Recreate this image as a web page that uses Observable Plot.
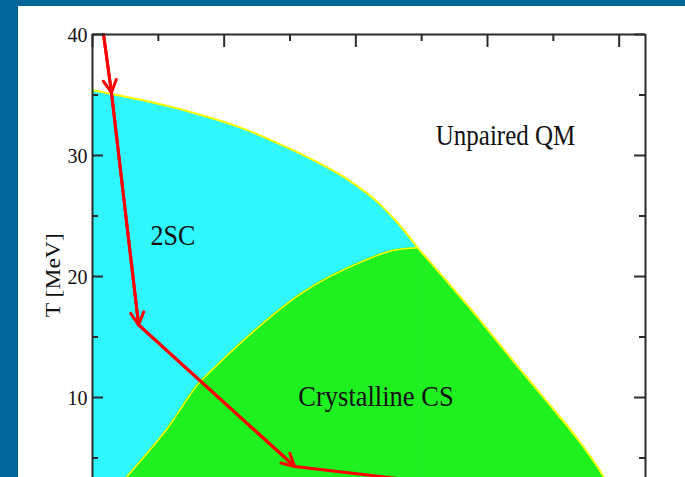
<!DOCTYPE html>
<html><head><meta charset="utf-8">
<script src="https://cdn.jsdelivr.net/npm/d3@7"></script>
<script src="https://cdn.jsdelivr.net/npm/@observablehq/plot@0.6"></script>
<style>
html,body{margin:0;padding:0;background:#006699;overflow:hidden;width:685px;height:477px;}
#wrap{position:absolute;left:18px;top:6px;width:667px;height:471px;background:#fff;}
</style></head><body><div id="wrap"></div>
<script>
// tick values
const xMajor = [0, 1, 2, 3, 4];
const xMinor = [0.5, 1.5, 2.5, 3.5];
const yMajor = [10, 20, 30, 40];
const yMinor = [5, 15, 25, 35];
const yTickLabels = ["10", "20", "30", "40"];

// 2SC / unpaired boundary (mu in axis units, T in MeV)
const upperMu = [0, 0.365, 0.745, 1.125, 1.43, 1.68, 1.94, 2.19, 2.32, 2.47];
const upperT  = [35.4, 34.6, 33.6, 32.3, 30.9, 29.6, 28.0, 25.9, 24.4, 22.37];
// crystalline CS boundary, left branch
const crystLeftMu = [0, 0.251, 0.57, 0.821, 0.875, 1.2, 1.58, 2.06, 2.27, 2.47];
const crystLeftT  = [0, 3.31, 7.46, 11.35, 11.93, 15.24, 18.56, 21.29, 22.12, 22.37];
// crystalline CS / unpaired boundary, right branch
const crystRightMu = [2.47, 2.95, 3.2, 3.46, 3.71, 3.88, 4.05];
const crystRightT  = [22.37, 16.3, 12.95, 9.55, 6.2, 3.5, 0];
// red trajectory
const pathMu = [0.084, 0.144, 0.35, 1.535, 3.5];
const pathT  = [40, 35.2, 16.0, 4.3, 1.8];
// region labels
const labelText = ["Unpaired QM", "2SC", "Crystalline CS"];
const labelMu = [3.137, 0.611, 2.153];
const labelT  = [30.9, 22.6, 9.26];
const labelSize = [25, 26, 26.5];
const yTitle = "T [MeV]";

const idx = (a) => a.map((_, i) => i);
const segs = [0, 1, 2].map(i => ({x1: pathMu[i], y1: pathT[i], x2: pathMu[i + 1], y2: pathT[i + 1]}));
const labels = labelText.map((t, i) => ({t, x: labelMu[i], y: labelT[i], s: labelSize[i]}));

const W = 667, H = 471, ML = 74, MR = 40, MT = 28, MB = 0;
const FW = W - ML - MR, FH = H - MT - MB;
const frameColor = "#2b2b2b";
const cyan = "#30f6fd", green = "#1ff01f", yellow = "#ffff00", red = "#ff0000";
const font = "Liberation Serif, Times New Roman, serif";
const smooth = "monotone-x";

const chart = Plot.plot({
  width: W, height: H,
  marginLeft: ML, marginRight: MR, marginTop: MT, marginBottom: MB,
  x: {domain: [0, 4.2], range: [ML, W - MR], axis: null},
  y: {domain: [0, 40], range: [512, MT], axis: null},
  style: {overflow: "hidden", background: "white", fontFamily: font},
  marks: [
    Plot.areaY(idx(upperMu), {x: i => upperMu[i], y1: 0, y2: i => upperT[i], fill: cyan, curve: smooth}),
    Plot.areaY(idx(crystRightMu), {x: i => crystRightMu[i], y1: 0, y2: i => crystRightT[i], fill: cyan, curve: smooth}),
    Plot.areaY(idx(crystLeftMu), {x: i => crystLeftMu[i], y1: 0, y2: i => crystLeftT[i], fill: green, stroke: green, strokeWidth: 1, curve: smooth}),
    Plot.areaY(idx(crystRightMu), {x: i => crystRightMu[i], y1: 0, y2: i => crystRightT[i], fill: green, stroke: green, strokeWidth: 1, curve: smooth}),
    Plot.line(idx(upperMu), {x: i => upperMu[i], y: i => upperT[i], stroke: yellow, strokeWidth: 2, curve: smooth}),
    Plot.line(idx(crystLeftMu), {x: i => crystLeftMu[i], y: i => crystLeftT[i], stroke: yellow, strokeWidth: 1.5, curve: smooth}),
    Plot.line(idx(crystRightMu), {x: i => crystRightMu[i], y: i => crystRightT[i], stroke: yellow, strokeWidth: 2, curve: smooth}),
    Plot.line(idx(pathMu), {x: i => pathMu[i], y: i => pathT[i], stroke: red, strokeWidth: 3, strokeLinejoin: "round"}),
    Plot.arrow(segs, {x1: "x1", y1: "y1", x2: "x2", y2: "y2", stroke: red, strokeWidth: 3, headLength: 7, headAngle: 56}),
    Plot.text(labels, {x: "x", y: "y", text: "t", fontSize: "s", lineAnchor: "bottom", textAnchor: "middle", fill: "#111"}),
    // frame
    Plot.ruleX([0, 4.2], {x: d => d, y1: 0, y2: 40, stroke: frameColor, strokeWidth: 2}),
    Plot.ruleY([40], {y: d => d, x1: 0, x2: 4.2, stroke: frameColor, strokeWidth: 2}),
    // ticks
    Plot.tickY(yMajor, {y: d => d, insetRight: FW - 11, stroke: frameColor, strokeWidth: 2}),
    Plot.tickY(yMinor, {y: d => d, insetRight: FW - 6, stroke: frameColor, strokeWidth: 2}),
    Plot.tickY(yMajor, {y: d => d, insetLeft: FW - 11, stroke: frameColor, strokeWidth: 2}),
    Plot.tickY(yMinor, {y: d => d, insetLeft: FW - 6, stroke: frameColor, strokeWidth: 2}),
    Plot.tickX(xMajor, {x: d => d, insetBottom: FH - 13, stroke: frameColor, strokeWidth: 2}),
    Plot.tickX(xMinor, {x: d => d, insetBottom: FH - 7, stroke: frameColor, strokeWidth: 2}),
    // tick labels
    Plot.text(yMajor, {x: 0, y: d => d, text: (d, i) => yTickLabels[i], textAnchor: "end", dx: -5, fontSize: 20, fill: "#111"}),
    // y title
    Plot.text([yTitle], {x: 0, y: 20.1, text: d => d, rotate: -90, dx: -39, fontSize: 20, fill: "#111"})
  ]
});
chart.querySelectorAll("text").forEach(t => {
  const s = t.textContent;
  const tr = t.getAttribute("transform") || "";
  if (labelText.includes(s)) t.setAttribute("transform", tr + " scale(1,1.15)");
  else if (s === yTitle) t.setAttribute("transform", tr + " scale(1.18,1)");
  else if (yTickLabels.includes(s)) t.setAttribute("transform", tr + " scale(1,1.1)");
});
document.getElementById("wrap").appendChild(chart);
</script></body></html>
